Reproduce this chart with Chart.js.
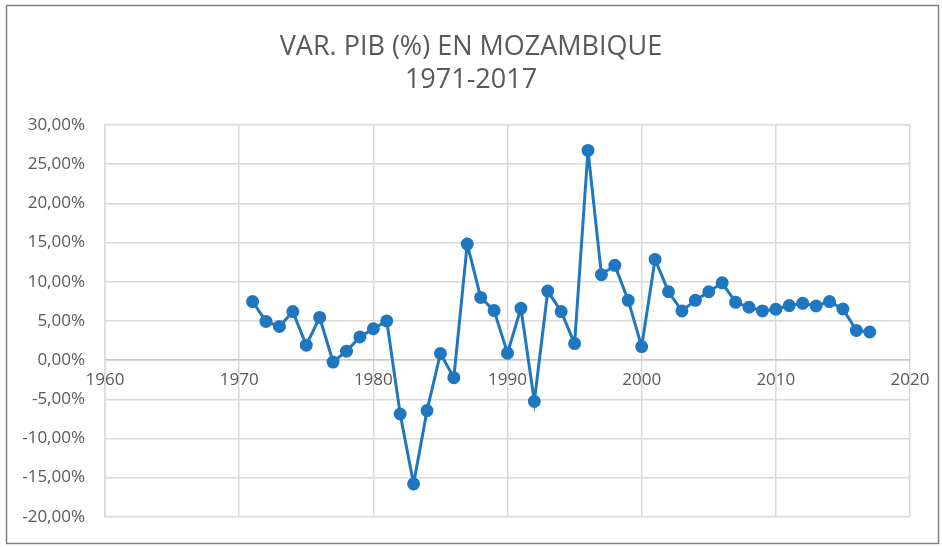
<!DOCTYPE html>
<html>
<head>
<meta charset="utf-8">
<title>VAR. PIB (%) EN MOZAMBIQUE</title>
<script src="https://cdn.jsdelivr.net/npm/chart.js@4"></script>
<style>
  html, body { margin: 0; padding: 0; background: #fff; }
  #wrap { width: 942px; height: 547px; position: relative; }
</style>
</head>
<body>
<div id="wrap"><canvas id="pibChart"></canvas></div>
<script>
const titulo = ['VAR. PIB (%) EN MOZAMBIQUE', '1971-2017'];

const anios = [
  1971, 1972, 1973, 1974, 1975, 1976, 1977, 1978, 1979, 1980,
  1981, 1982, 1983, 1984, 1985, 1986, 1987, 1988, 1989, 1990,
  1991, 1992, 1993, 1994, 1995, 1996, 1997, 1998, 1999, 2000,
  2001, 2002, 2003, 2004, 2005, 2006, 2007, 2008, 2009, 2010,
  2011, 2012, 2013, 2014, 2015, 2016, 2017
];

// variacion del PIB en %
const variacion = [
  7.46, 4.93, 4.30, 6.19, 1.90, 5.44, -0.25, 1.14, 2.95, 4.00,
  5.00, -6.88, -15.80, -6.45, 0.84, -2.24, 14.80, 8.00, 6.32, 0.88,
  6.61, -5.27, 8.80, 6.19, 2.10, 26.75, 10.90, 12.09, 7.62, 1.72,
  12.85, 8.72, 6.27, 7.62, 8.72, 9.86, 7.37, 6.74, 6.27, 6.49,
  6.95, 7.24, 6.90, 7.46, 6.52, 3.79, 3.58
];

const ejeX = { min: 1960, max: 2020, paso: 10 };
const ejeY = { min: -20, max: 30, paso: 5 };

const gris = '#595959';
const rejilla = '#d9d9d9';
const fuente = "'Open Sans', sans-serif";

// marco exterior y titulo centrado en toda la imagen
const marco = {
  id: 'marco',
  afterDraw(chart) {
    const ctx = chart.ctx;
    ctx.save();
    ctx.strokeStyle = '#7f7f7f';
    ctx.lineWidth = 1.5;
    ctx.strokeRect(6.5, 5.5, 932, 538);
    ctx.fillStyle = gris;
    ctx.font = "27px " + fuente;
    ctx.textAlign = 'center';
    ctx.textBaseline = 'middle';
    ctx.fillText(titulo[0], 471, 47);
    ctx.fillText(titulo[1], 471, 80);
    ctx.restore();
  }
};

new Chart(document.getElementById('pibChart'), {
  type: 'line',
  data: {
    datasets: [{
      label: 'Var. PIB',
      data: anios.map((a, i) => ({ x: a, y: variacion[i] })),
      borderColor: '#1f77c0',
      backgroundColor: '#1f77c0',
      borderWidth: 3,
      pointRadius: 5,
      pointHoverRadius: 5,
      tension: 0
    }]
  },
  options: {
    responsive: true,
    maintainAspectRatio: false,
    animation: false,
    layout: { padding: { left: 0, right: 32, top: 125, bottom: 26 } },
    plugins: {
      legend: { display: false },
      tooltip: { enabled: false },
      title: { display: false }
    },
    scales: {
      x: {
        type: 'linear',
        position: { y: 0 },
        min: ejeX.min,
        max: ejeX.max,
        ticks: {
          stepSize: ejeX.paso,
          color: gris,
          font: { family: fuente, size: 17 },
          padding: 10,
          callback: v => String(v)
        },
        grid: { color: rejilla, lineWidth: 1.5, drawTicks: false },
        border: { color: '#c8c8c8', width: 1.5 }
      },
      y: {
        min: ejeY.min,
        max: ejeY.max,
        afterFit: s => { s.width = 105; },
        ticks: {
          stepSize: ejeY.paso,
          color: gris,
          font: { family: fuente, size: 17 },
          padding: 20,
          callback: v => v.toFixed(2).replace('.', ',') + '%'
        },
        grid: { color: rejilla, lineWidth: 1.5, drawTicks: false },
        border: { color: rejilla, width: 1.5 }
      }
    }
  },
  plugins: [marco]
});
</script>
</body>
</html>
